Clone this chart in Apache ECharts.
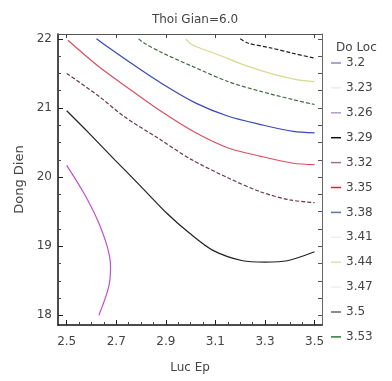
<!DOCTYPE html>
<html><head><meta charset="utf-8">
<script src="https://cdn.jsdelivr.net/npm/echarts@6/dist/echarts.min.js"></script>
<style>html,body{margin:0;padding:0;background:#fff}#c{width:392px;height:381px}</style>
</head><body><div id="c"></div>
<script>
// ---- data ----
const levels = ['3.2','3.23','3.26','3.29','3.32','3.35','3.38','3.41','3.44','3.47','3.5','3.53'];
const xTicks = [2.5, 2.7, 2.9, 3.1, 3.3, 3.5];
const xMinorTicks = [2.55,2.6,2.65,2.75,2.8,2.85,2.95,3.0,3.05,3.15,3.2,3.25,3.35,3.4,3.45];
const yTicks = [18, 19, 20, 21, 22];
const yMinorTicks = [18.25,18.5,18.75,19.25,19.5,19.75,20.25,20.5,20.75,21.25,21.5,21.75];

// contour 3.26
const c326_x = [2.50, 2.569, 2.623, 2.663, 2.677, 2.670, 2.63];
const c326_y = [20.17, 19.77, 19.39, 19.00, 18.71, 18.42, 18.0];
// contour 3.29
const c329_x = [2.50, 2.589, 2.694, 2.798, 2.903, 2.995, 3.09, 3.21, 3.30, 3.39, 3.50];
const c329_y = [20.96, 20.64, 20.25, 19.87, 19.48, 19.19, 18.94, 18.79, 18.77, 18.79, 18.92];
// contour 3.32
const c332_x = [2.50, 2.63, 2.73, 2.87, 3.00, 3.15, 3.28, 3.40, 3.50];
const c332_y = [21.50, 21.17, 20.88, 20.56, 20.26, 19.99, 19.79, 19.67, 19.63];
// contour 3.35
const c335_x = [2.505, 2.629, 2.759, 2.890, 3.021, 3.152, 3.283, 3.414, 3.50];
const c335_y = [21.98, 21.60, 21.26, 20.93, 20.64, 20.42, 20.30, 20.20, 20.18];
// contour 3.38
const c338_x = [2.62, 2.655, 2.759, 2.890, 3.021, 3.152, 3.283, 3.414, 3.50];
const c338_y = [22.0, 21.91, 21.65, 21.34, 21.07, 20.88, 20.76, 20.66, 20.64];
// contour 3.41
const c341_x = [2.79, 2.812, 2.890, 3.021, 3.152, 3.283, 3.414, 3.50];
const c341_y = [22.0, 21.94, 21.79, 21.58, 21.38, 21.24, 21.12, 21.05];
// contour 3.44
const c344_x = [2.98, 3.008, 3.112, 3.217, 3.322, 3.427, 3.50];
const c344_y = [22.0, 21.91, 21.77, 21.62, 21.50, 21.41, 21.38];
// contour 3.47
const c347_x = [3.20, 3.23, 3.322, 3.414, 3.50];
const c347_y = [22.0, 21.94, 21.87, 21.79, 21.72];

// ---- styles ----
const FONT = 'DejaVu Sans';
const TXT = '#444';
const lineColors = {
  '3.2':'#8888cc','3.23':'#eeeeee','3.26':'#c050c8','3.29':'#222222','3.32':'#6a3550',
  '3.35':'#d85060','3.38':'#3a4ab0','3.41':'#3d6a45','3.44':'#d8d890','3.47':'#222222',
  '3.5':'#666666','3.53':'#2a7a2a'
};
const legendColors = {
  '3.2':'#8888cc','3.23':'#eeeeee','3.26':'#b39cc8','3.29':'#111111','3.32':'#a07090',
  '3.35':'#c03030','3.38':'#6070a0','3.41':'#eeeeee','3.44':'#e0e0a8','3.47':'#eeeeee',
  '3.5':'#666666','3.53':'#2a7a2a'
};
const dashed = {'3.32':[4,2], '3.41':[4,2], '3.47':[4,2]};

const curves = {
  '3.26':[c326_x,c326_y], '3.29':[c329_x,c329_y], '3.32':[c332_x,c332_y], '3.35':[c335_x,c335_y],
  '3.38':[c338_x,c338_y], '3.41':[c341_x,c341_y], '3.44':[c344_x,c344_y], '3.47':[c347_x,c347_y]
};

const series = levels.map(lv => {
  const c = curves[lv];
  const data = c ? c[0].map((x, i) => [x, c[1][i]]) : [];
  return {
    name: lv, type: 'line', xAxisIndex: 0, yAxisIndex: 0,
    data: data, showSymbol: false, symbol: 'none', smooth: 0.3,
    lineStyle: {color: lineColors[lv], width: 1.2, type: dashed[lv] || 'solid'},
    itemStyle: {color: lineColors[lv]},
    emphasis: {disabled: true}, silent: true
  };
});

const xMin = 2.465, xMax = 3.53, yMin = 17.86, yMax = 22.07;
const axisTxt = {fontFamily: FONT, fontSize: 12, color: TXT};

const option = {
  animation: false,
  backgroundColor: '#fff',
  title: [
    {text: 'Thoi Gian=6.0', left: 190, top: 9, textAlign: 'center',
     textStyle: {fontFamily: FONT, fontSize: 12, fontWeight: 'normal', color: TXT}},
    {text: 'Do Loc', left: 331, top: 37,
     textStyle: {fontFamily: FONT, fontSize: 12, fontWeight: 'normal', color: TXT}}
  ],
  grid: {left: 58, top: 34, right: 70, bottom: 56, show: false},
  legend: {
    orient: 'vertical', left: 331, top: 56, padding: 0,
    icon: 'rect', itemWidth: 10, itemHeight: 1.5, itemGap: 10.9,
    selectedMode: false,
    textStyle: {fontFamily: FONT, fontSize: 12, color: TXT, lineHeight: 14},
    data: levels.map(lv => ({name: lv, itemStyle: {color: legendColors[lv]}}))
  },
  xAxis: [
    {type: 'value', min: xMin, max: xMax, position: 'bottom',
     axisLine: {show: true, onZero: false, lineStyle: {color: '#111', width: 1.5}},
     axisTick: {show: true, inside: true, length: 5, customValues: xTicks, lineStyle: {color: '#222'}},
     axisLabel: {show: true, customValues: xTicks, margin: 11, ...axisTxt, formatter: v => String(v)},
     splitLine: {show: false},
     name: 'Luc Ep', nameLocation: 'middle', nameGap: 37,
     nameTextStyle: {fontFamily: FONT, fontSize: 12, color: TXT}},
    {type: 'value', min: xMin, max: xMax, position: 'bottom',
     axisLine: {show: false, onZero: false},
     axisTick: {show: true, inside: true, length: 3, customValues: xMinorTicks, lineStyle: {color: '#444'}},
     axisLabel: {show: false}, splitLine: {show: false}},
    {type: 'value', min: xMin, max: xMax, position: 'top',
     axisLine: {show: true, onZero: false, lineStyle: {color: '#555', width: 1}},
     axisTick: {show: true, inside: true, length: 4, customValues: xTicks, lineStyle: {color: '#444'}},
     axisLabel: {show: false}, splitLine: {show: false}}
  ],
  yAxis: [
    {type: 'value', min: yMin, max: yMax, position: 'left',
     axisLine: {show: true, onZero: false, lineStyle: {color: '#111', width: 1.5}},
     axisTick: {show: true, inside: true, length: 5, customValues: yTicks, lineStyle: {color: '#222'}},
     axisLabel: {show: true, customValues: yTicks, margin: 6, ...axisTxt},
     splitLine: {show: false},
     name: 'Dong Dien', nameLocation: 'middle', nameGap: 30, nameRotate: 90,
     nameTextStyle: {fontFamily: FONT, fontSize: 13, color: TXT}},
    {type: 'value', min: yMin, max: yMax, position: 'left',
     axisLine: {show: false, onZero: false},
     axisTick: {show: true, inside: true, length: 3, customValues: yMinorTicks, lineStyle: {color: '#444'}},
     axisLabel: {show: false}, splitLine: {show: false}},
    {type: 'value', min: yMin, max: yMax, position: 'right',
     axisLine: {show: true, onZero: false, lineStyle: {color: '#666', width: 1}},
     axisTick: {show: true, inside: true, length: 4, customValues: yTicks.concat(yMinorTicks), lineStyle: {color: '#555'}},
     axisLabel: {show: false}, splitLine: {show: false}}
  ],
  series: series
};

const chart = echarts.init(document.getElementById('c'), null, {renderer: 'canvas'});
chart.setOption(option);
</script>
</body></html>
